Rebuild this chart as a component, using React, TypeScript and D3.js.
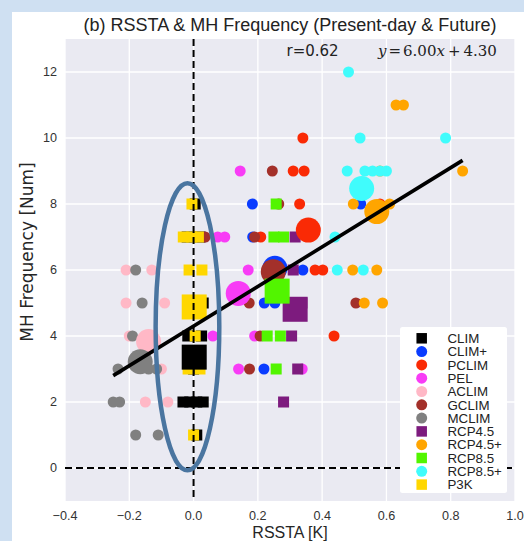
import React from "react";
import * as d3 from "d3";

const W = 524;
const H = 541;
const PLOT = { left: 65, right: 515, top: 39, bottom: 501 };

const xDomain: [number, number] = [-0.4, 1.0];
const yDomain: [number, number] = [-1, 13];
const xTicks = [-0.4, -0.2, 0.0, 0.2, 0.4, 0.6, 0.8, 1.0];
const yTicks = [0, 2, 4, 6, 8, 10, 12];

const groupNames = ["CLIM", "CLIM+", "PCLIM", "PEL", "ACLIM", "GCLIM", "MCLIM", "RCP4.5", "RCP4.5+", "RCP8.5", "RCP8.5+", "P3K"];
const groupColors = ["#000000", "#0a3cff", "#fa2a05", "#f83cf6", "#ffb8c6", "#a3302a", "#808080", "#7d1b7e", "#ffa500", "#52f500", "#40fcfc", "#ffd700"];
const groupShapes = ["square", "circle", "circle", "circle", "circle", "circle", "circle", "square", "circle", "square", "circle", "square"];

// member points [RSSTA, MH frequency]
const climPts = [[0.005, 8], [-0.02, 7], [0.02, 7], [0.03, 5], [-0.018, 4], [0.025, 4], [0.0, 3], [-0.033, 2], [-0.012, 2], [0.01, 2], [0.03, 2], [0.01, 1]];
const climPlusPts = [[0.183, 8], [0.52, 8], [0.184, 7], [0.34, 6], [0.22, 5], [0.253, 5], [0.219, 3]];
const pclimPts = [[0.34, 10], [0.31, 9], [0.344, 9], [0.33, 8], [0.58, 8], [0.209, 7], [0.378, 6], [0.402, 6], [0.437, 4]];
const pelPts = [[0.145, 9], [0.075, 7], [0.097, 7], [0.17, 6], [0.06, 4], [0.19, 4], [0.14, 3], [0.338, 3]];
const aclimPts = [[-0.21, 6], [-0.13, 6], [-0.21, 5], [-0.09, 5], [-0.2, 4], [-0.1, 3], [-0.15, 2], [-0.08, 2]];
const gclimPts = [[0.245, 9], [0.265, 8], [0.036, 7], [0.19, 7], [0.173, 5], [0.505, 5], [0.207, 4], [0.174, 3]];
const mclimPts = [[-0.18, 6], [-0.16, 5], [-0.19, 4], [-0.235, 3], [-0.14, 3], [-0.115, 3], [-0.25, 2], [-0.23, 2], [-0.18, 1], [-0.11, 1]];
const rcp45Pts = [[0.316, 7], [0.31, 6], [0.337, 5], [0.305, 4], [0.324, 3], [0.28, 2]];
const rcp45PlusPts = [[0.63, 11], [0.653, 11], [0.837, 9], [0.58, 9], [0.497, 8], [0.61, 8], [0.495, 6], [0.57, 6], [0.531, 5], [0.588, 5]];
const rcp85Pts = [[0.257, 8], [0.25, 7], [0.28, 7], [0.229, 4], [0.27, 4], [0.257, 3]];
const rcp85PlusPts = [[0.482, 12], [0.518, 10], [0.784, 10], [0.478, 9], [0.533, 9], [0.557, 9], [0.58, 9], [0.6, 9], [0.44, 7], [0.447, 6], [0.528, 6]];
const p3kPts = [[-0.005, 8], [-0.032, 7], [-0.006, 7], [0.015, 7], [-0.014, 6], [0.026, 6], [0.005, 4], [-0.017, 3], [0.02, 3], [0.0, 1]];

const memberPts = [climPts, climPlusPts, pclimPts, pelPts, aclimPts, gclimPts, mclimPts, rcp45Pts, rcp45PlusPts, rcp85Pts, rcp85PlusPts, p3kPts];

// group means (large markers)
const meanX = [0.002, 0.253, 0.357, 0.139, -0.14, 0.248, -0.166, 0.316, 0.57, 0.26, 0.523, 0.002];
const meanY = [3.36, 6.05, 7.21, 5.29, 3.83, 5.95, 3.22, 4.81, 7.77, 5.36, 8.47, 4.88];

const fitSlope = 6.0;
const fitIntercept = 4.3;
const corrText = "r=0.62";

// highlight ellipse (data units)
const ellipseCenter = [-0.019, 4.28];
const ellipseRadius = [0.099, 4.35];

const SANS = "'Liberation Sans', Arial, sans-serif";

function Marker({ shape, x, y, size, color }: { shape: string; x: number; y: number; size: number; color: string }) {
  if (shape === "square") {
    return <rect x={x - size / 2} y={y - size / 2} width={size} height={size} fill={color} />;
  }
  return <circle cx={x} cy={y} r={size / 2} fill={color} />;
}

export default function App() {
  const x = d3.scaleLinear().domain(xDomain).range([PLOT.left, PLOT.right]);
  const y = d3.scaleLinear().domain(yDomain).range([PLOT.bottom, PLOT.top]);
  const fmtX = d3.format(".1f");

  const allX = memberPts.flat().map((p) => p[0]);
  const [xmin, xmax] = d3.extent(allX) as [number, number];
  const fitLine = d3.line<number>().x((v) => x(v)).y((v) => y(fitSlope * v + fitIntercept));

  const smallSize = 11;
  const bigSquare = 25;
  const bigCircle = 25;

  const legendX = 400;
  const legendY = 327;
  const rowH = 13.3;

  return (
    <div style={{ position: "fixed", left: 0, top: 0, width: W, height: H }}>
      <svg width={W} height={H} style={{ display: "block" }}>
        <rect x={0} y={0} width={W} height={H} fill="#ffffff" />
        <rect x={0} y={0} width={W} height={12} fill="#cfe0f2" />
        <rect x={0} y={0} width={12} height={H} fill="#cfe0f2" />

        <rect x={PLOT.left} y={PLOT.top} width={PLOT.right - PLOT.left} height={PLOT.bottom - PLOT.top} fill="#eaeaf2" />
        {xTicks.map((t) => (
          <line key={"gx" + t} x1={x(t)} x2={x(t)} y1={PLOT.top} y2={PLOT.bottom} stroke="#ffffff" strokeWidth={1.3} />
        ))}
        {yTicks.map((t) => (
          <line key={"gy" + t} x1={PLOT.left} x2={PLOT.right} y1={y(t)} y2={y(t)} stroke="#ffffff" strokeWidth={1.3} />
        ))}

        {memberPts.map((pts, gi) =>
          pts.map((p, i) => (
            <Marker key={`m${gi}-${i}`} shape={groupShapes[gi]} x={x(p[0])} y={y(p[1])} size={smallSize} color={groupColors[gi]} />
          ))
        )}
        {meanX.map((mx, gi) => (
          <Marker key={`mean${gi}`} shape={groupShapes[gi]} x={x(mx)} y={y(meanY[gi])} size={groupShapes[gi] === "square" ? bigSquare : bigCircle} color={groupColors[gi]} />
        ))}

        <path d={fitLine([xmin, xmax]) || ""} stroke="#000" strokeWidth={3.6} fill="none" />

        <line x1={x(0)} x2={x(0)} y1={PLOT.top} y2={PLOT.bottom} stroke="#000" strokeWidth={2} strokeDasharray="7,4" />
        <line x1={PLOT.left} x2={PLOT.right} y1={y(0)} y2={y(0)} stroke="#000" strokeWidth={2} strokeDasharray="7,4" />

        <ellipse
          cx={x(ellipseCenter[0])}
          cy={y(ellipseCenter[1])}
          rx={x(ellipseRadius[0]) - x(0)}
          ry={y(0) - y(ellipseRadius[1])}
          fill="none"
          stroke="#4a75a0"
          strokeWidth={4.5}
        />

        {xTicks.map((t) => (
          <text key={"tx" + t} x={x(t)} y={520} textAnchor="middle" fontFamily={SANS} fontSize={12.6} fill="#333">
            {fmtX(t)}
          </text>
        ))}
        {yTicks.map((t) => (
          <text key={"ty" + t} x={57} y={y(t)} dy="0.35em" textAnchor="end" fontFamily={SANS} fontSize={12.6} fill="#333">
            {t}
          </text>
        ))}

        <text x={(PLOT.left + PLOT.right) / 2} y={538} textAnchor="middle" fontFamily={SANS} fontSize={16} fill="#262626">
          RSSTA [K]
        </text>
        <text transform={`translate(33,252) rotate(-90)`} textAnchor="middle" fontFamily="'DejaVu Sans', sans-serif" fontSize={17} fill="#262626">
          MH Frequency [Num]
        </text>

        <text x={(PLOT.left + PLOT.right) / 2} y={30.5} textAnchor="middle" fontFamily={SANS} fontSize={18} fill="#222">
          (b) RSSTA &amp; MH Frequency (Present-day &amp; Future)
        </text>

        <text x={286.5} y={55.5} fontFamily="'DejaVu Sans', sans-serif" fontSize={15} fill="#222">
          {corrText}
        </text>
        <text x={378} y={55.5} fontFamily="'DejaVu Serif', serif" fontSize={15} fill="#222">
          <tspan fontStyle="italic">y</tspan>
          <tspan dx={2}>=</tspan>
          <tspan dx={2}>{fitSlope.toFixed(2)}</tspan>
          <tspan fontStyle="italic">x</tspan>
          <tspan dx={3}>+</tspan>
          <tspan dx={3}>{fitIntercept.toFixed(2)}</tspan>
        </text>

        <rect x={legendX} y={legendY} width={107} height={166} rx={2.5} fill="#ffffff" />
        {groupNames.map((name, i) => {
          const cy = legendY + 11.3 + i * rowH;
          return (
            <g key={"lg" + name}>
              <Marker shape={groupShapes[i]} x={421.7} y={cy} size={groupShapes[i] === "square" ? 10.5 : 11} color={groupColors[i]} />
              <text x={447.5} y={cy} dy="0.36em" fontFamily={SANS} fontSize={13.3} fill="#222">
                {name}
              </text>
            </g>
          );
        })}
      </svg>
    </div>
  );
}
